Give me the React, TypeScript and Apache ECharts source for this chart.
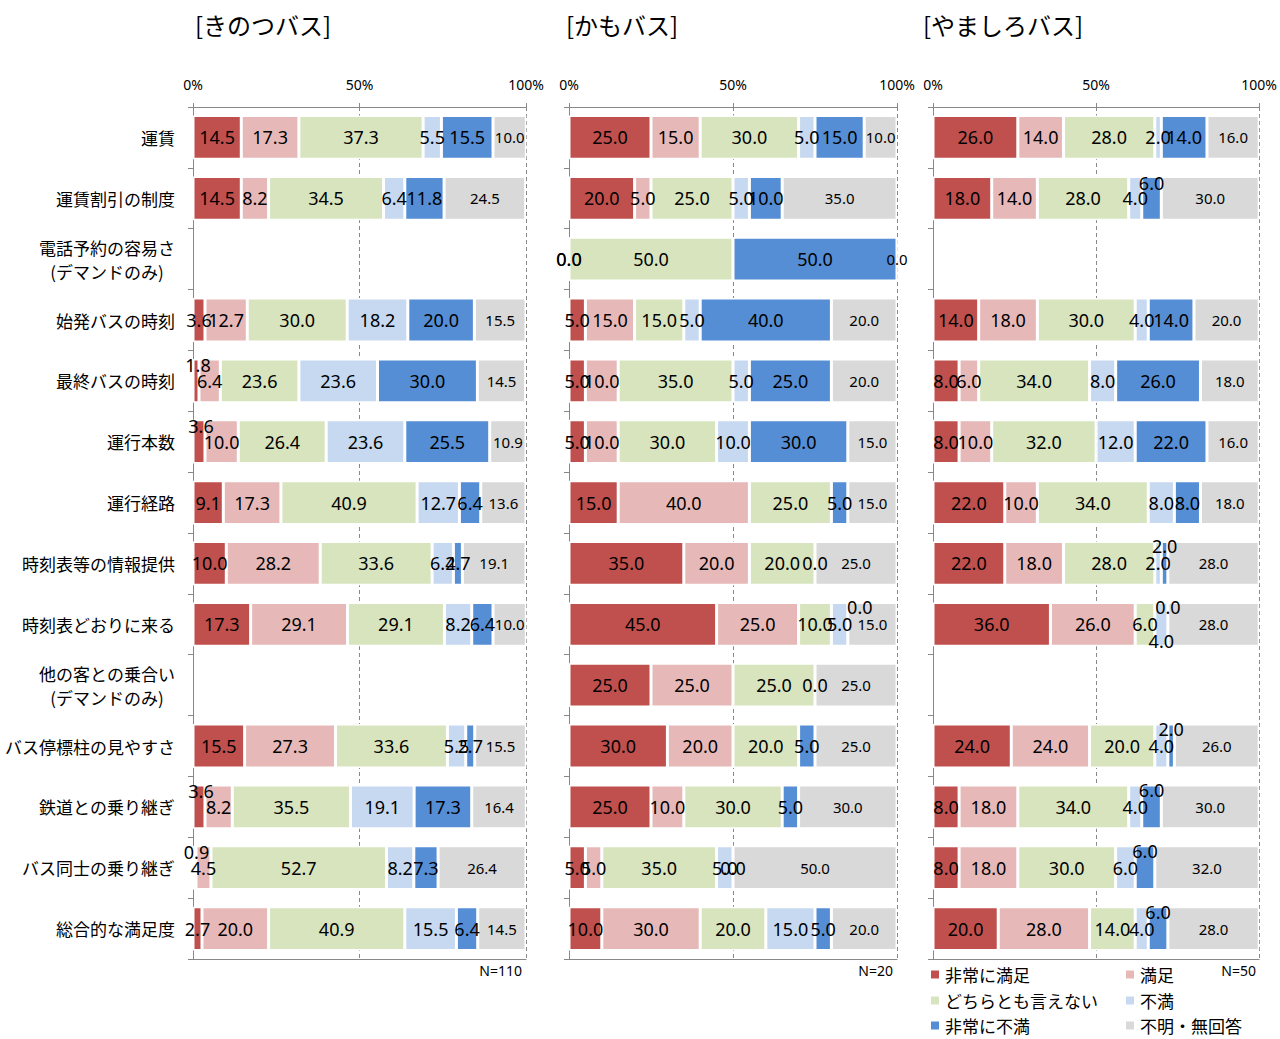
import React, { useEffect, useRef } from "react";
import * as echarts from "echarts";

const categories = [
  "運賃",
  "運賃割引の制度",
  "電話予約の容易さ\n(デマンドのみ)",
  "始発バスの時刻",
  "最終バスの時刻",
  "運行本数",
  "運行経路",
  "時刻表等の情報提供",
  "時刻表どおりに来る",
  "他の客との乗合い\n(デマンドのみ)",
  "バス停標柱の見やすさ",
  "鉄道との乗り継ぎ",
  "バス同士の乗り継ぎ",
  "総合的な満足度",
];

const seriesNames = ["非常に満足", "満足", "どちらとも言えない", "不満", "非常に不満", "不明・無回答"];
const panelTitles = ["[きのつバス]", "[かもバス]", "[やましろバス]"];
const sampleSizes = ["N=110", "N=20", "N=50"];
const tickLabels = ["0%", "50%", "100%"];

// きのつバス
const kinotsuVerySatisfied = [14.5, 14.5, null, 3.6, 1.8, 3.6, 9.1, 10.0, 17.3, null, 15.5, 3.6, 0.9, 2.7];
const kinotsuSatisfied = [17.3, 8.2, null, 12.7, 6.4, 10.0, 17.3, 28.2, 29.1, null, 27.3, 8.2, 4.5, 20.0];
const kinotsuNeutral = [37.3, 34.5, null, 30.0, 23.6, 26.4, 40.9, 33.6, 29.1, null, 33.6, 35.5, 52.7, 40.9];
const kinotsuDissatisfied = [5.5, 6.4, null, 18.2, 23.6, 23.6, 12.7, 6.4, 8.2, null, 5.5, 19.1, 8.2, 15.5];
const kinotsuVeryDissatisfied = [15.5, 11.8, null, 20.0, 30.0, 25.5, 6.4, 2.7, 6.4, null, 2.7, 17.3, 7.3, 6.4];
const kinotsuUnknown = [10.0, 24.5, null, 15.5, 14.5, 10.9, 13.6, 19.1, 10.0, null, 15.5, 16.4, 26.4, 14.5];

// かもバス
const kamoVerySatisfied = [25, 20, 0, 5, 5, 5, 15, 35, 45, 25, 30, 25, 5, 10];
const kamoSatisfied = [15, 5, 0, 15, 10, 10, 40, 20, 25, 25, 20, 10, 5, 30];
const kamoNeutral = [30, 25, 50, 15, 35, 30, 25, 20, 10, 25, 20, 30, 35, 20];
const kamoDissatisfied = [5, 5, null, 5, 5, 10, null, 0, 5, 0, null, null, 5, 15];
const kamoVeryDissatisfied = [15, 10, 50, 40, 25, 30, 5, null, 0, null, 5, 5, 0, 5];
const kamoUnknown = [10, 35, 0, 20, 20, 15, 15, 25, 15, 25, 25, 30, 50, 20];

// やましろバス
const yamashiroVerySatisfied = [26, 18, null, 14, 8, 8, 22, 22, 36, null, 24, 8, 8, 20];
const yamashiroSatisfied = [14, 14, null, 18, 6, 10, 10, 18, 26, null, 24, 18, 18, 28];
const yamashiroNeutral = [28, 28, null, 30, 34, 32, 34, 28, 6, null, 20, 34, 30, 14];
const yamashiroDissatisfied = [2, 4, null, 4, 8, 12, 8, 2, 4, null, 4, 4, 6, 4];
const yamashiroVeryDissatisfied = [14, 6, null, 14, 26, 22, 8, 2, 0, null, 2, 6, 6, 6];
const yamashiroUnknown = [16, 30, null, 20, 18, 16, 18, 28, 28, null, 26, 30, 32, 28];

const panels = [
  [kinotsuVerySatisfied, kinotsuSatisfied, kinotsuNeutral, kinotsuDissatisfied, kinotsuVeryDissatisfied, kinotsuUnknown],
  [kamoVerySatisfied, kamoSatisfied, kamoNeutral, kamoDissatisfied, kamoVeryDissatisfied, kamoUnknown],
  [yamashiroVerySatisfied, yamashiroSatisfied, yamashiroNeutral, yamashiroDissatisfied, yamashiroVeryDissatisfied, yamashiroUnknown],
];

const colors = ["#C0504D", "#E6B9B8", "#D7E4BD", "#C6D9F1", "#558ED5", "#D9D9D9"];

// label nudges (panel-series-row): [dx, dy]
const labelOffsets: Record<string, number[]> = {
  "0-0-4": [2, -16],
  "0-0-5": [2, -16],
  "0-0-11": [2, -16],
  "0-0-12": [2, -16],
  "1-4-8": [12, -17],
  "2-4-1": [0, -15],
  "2-4-7": [0, -17],
  "2-4-8": [0, -17],
  "2-3-8": [0, 17],
  "2-4-10": [0, -17],
  "2-4-11": [0, -17],
  "2-4-12": [0, -17],
  "2-4-13": [0, -17],
};

const gridLefts = [193, 569, 933];
const gridWidths = [333, 328, 327];
const titleLefts = [195, 566, 923];
const legendCols = [929, 1124];
const legendRows = [976, 1002, 1027];
const GRID_TOP = 107;
const GRID_BOTTOM = 80;
const AXIS_GRAY = "#888888";
const CJK = '"Noto Sans CJK JP", sans-serif';
const NUM = '"Noto Sans", "Noto Sans CJK JP", sans-serif';

export default function App() {
  const ref = useRef<HTMLDivElement>(null);
  useEffect(() => {
    document.body.style.margin = "0";
    if (!ref.current) return;
    const chart = echarts.init(ref.current, null, { renderer: "svg" });

    const grids = gridLefts.map((l, i) => ({
      left: l,
      width: gridWidths[i],
      top: GRID_TOP,
      bottom: GRID_BOTTOM,
      containLabel: false,
    }));

    const topAxes = gridLefts.map((_, i) => ({
      type: "value",
      gridIndex: i,
      position: "top",
      min: 0,
      max: 100,
      interval: 50,
      axisLine: { show: true, lineStyle: { color: AXIS_GRAY, width: 1 } },
      axisTick: { show: true, length: 4, lineStyle: { color: AXIS_GRAY } },
      axisLabel: {
        show: true,
        margin: 16,
        fontSize: 14,
        color: "#000",
        fontFamily: NUM,
        formatter: (v: number) => tickLabels[Math.round(v / 50)],
      },
      splitLine: { show: true, lineStyle: { color: AXIS_GRAY, type: [4, 3], width: 1 } },
    }));
    const bottomAxes = gridLefts.map((_, i) => ({
      type: "value",
      gridIndex: i,
      position: "bottom",
      min: 0,
      max: 100,
      interval: 50,
      axisLine: { show: true, lineStyle: { color: AXIS_GRAY, width: 1 } },
      axisTick: { show: false },
      axisLabel: { show: false },
      splitLine: { show: false },
    }));

    const yAxes = gridLefts.map((_, i) => ({
      type: "category",
      gridIndex: i,
      inverse: true,
      data: categories,
      axisLine: { show: true, lineStyle: { color: AXIS_GRAY, width: 1 } },
      axisTick: { show: true, length: 5, lineStyle: { color: AXIS_GRAY } },
      axisLabel: {
        show: i === 0,
        margin: 18,
        align: "right",
        color: "#000",
        formatter: (v: string) =>
          v
            .split("\n")
            .map((l) => `{c|${l}}`)
            .join("\n"),
        rich: {
          c: { align: "center", fontSize: 17, lineHeight: 24, fontFamily: CJK, color: "#000" },
        },
      },
    }));

    const series: any[] = [];
    panels.forEach((panel, p) => {
      panel.forEach((arr, s) => {
        series.push({
          type: "bar",
          name: seriesNames[s],
          xAxisIndex: p,
          yAxisIndex: p,
          stack: "panel" + p,
          barCategoryGap: "28%",
          itemStyle: { color: colors[s], borderColor: "#ffffff", borderWidth: 1.5 },
          label: {
            show: true,
            position: "inside",
            color: "#000",
            fontFamily: NUM,
            fontSize: s === 5 ? 15 : 18,
            formatter: (prm: any) => {
              const v = typeof prm.value === "object" && prm.value !== null ? prm.value.value : prm.value;
              return v === null || v === undefined || v === "-" ? "" : Number(v).toFixed(1);
            },
          },
          emphasis: { disabled: true },
          data: arr.map((v, r) => {
            const off = labelOffsets[`${p}-${s}-${r}`];
            return off ? { value: v, label: { offset: off } } : v;
          }),
        });
      });
    });

    const graphics: any[] = gridLefts.map((l, i) => ({
      type: "text",
      x: l + gridWidths[i] - 4,
      y: 970,
      style: {
        text: sampleSizes[i],
        fontSize: 14,
        fontFamily: NUM,
        fill: "#000",
        align: "right",
        verticalAlign: "middle",
      },
    }));

    const legendOrder = [0, 1, 2, 3, 4, 5];
    const legends = legendOrder.map((s) => ({
      left: legendCols[s % 2],
      top: legendRows[Math.floor(s / 2)] - 10,
      orient: "horizontal",
      itemWidth: 10,
      itemHeight: 10,
      icon: "rect",
      padding: 0,
      data: [seriesNames[s]],
      textStyle: { fontSize: 17, fontFamily: CJK, color: "#000" },
      selectedMode: false,
    }));

    chart.setOption({
      animation: false,
      backgroundColor: "#ffffff",
      title: panelTitles.map((t, i) => ({
        text: t,
        left: titleLefts[i],
        top: 12,
        padding: 0,
        textStyle: { fontSize: 24, fontWeight: "normal", fontFamily: CJK, color: "#000" },
      })),
      legend: legends,
      grid: grids,
      xAxis: [...topAxes, ...bottomAxes],
      yAxis: yAxes,
      series,
      graphic: graphics,
    });
    return () => chart.dispose();
  }, []);
  return <div ref={ref} style={{ width: 1280, height: 1039 }} />;
}
